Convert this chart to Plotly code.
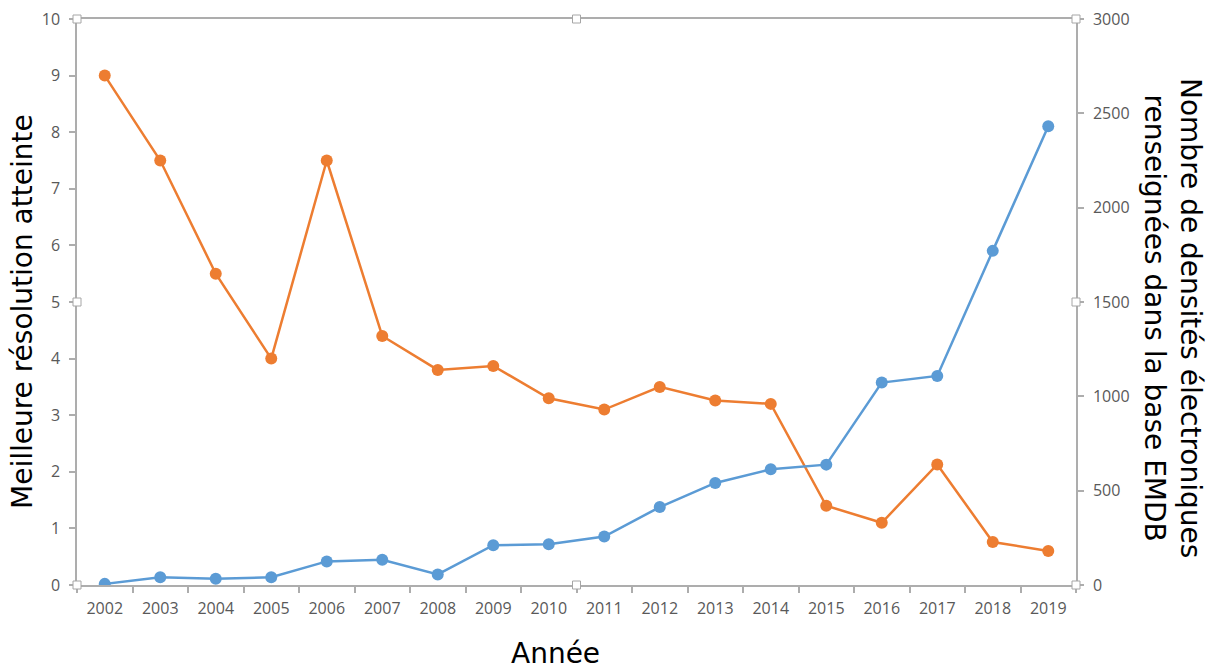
import plotly.graph_objects as go

# Years on the category axis
annees = ["2002", "2003", "2004", "2005", "2006", "2007", "2008", "2009", "2010",
          "2011", "2012", "2013", "2014", "2015", "2016", "2017", "2018", "2019"]

# Best resolution reached each year (left axis)
meilleure_resolution = [9.0, 7.5, 5.5, 4.0, 7.5, 4.4, 3.8, 3.87, 3.3,
                        3.1, 3.5, 3.26, 3.2, 1.4, 1.1, 2.13, 0.76, 0.6]

# Number of maps deposited in EMDB each year (right axis)
nombre_densites = [6, 41, 33, 41, 125, 134, 56, 211, 216,
                   257, 413, 541, 613, 638, 1073, 1108, 1771, 2432]

# Left/right axis tick values
ticks_gauche = list(range(0, 11))
ticks_droite = [0, 500, 1000, 1500, 2000, 2500, 3000]

ORANGE = "#ED7D31"
BLEU = "#5B9BD5"
GRIS_AXE = "#ADADAD"
GRIS_TEXTE = "#595959"

fig = go.Figure()

fig.add_trace(go.Scatter(
    x=annees, y=meilleure_resolution, mode="lines+markers",
    line=dict(color=ORANGE, width=2.5),
    marker=dict(color=ORANGE, size=12),
    yaxis="y", showlegend=False,
))

fig.add_trace(go.Scatter(
    x=annees, y=nombre_densites, mode="lines+markers",
    line=dict(color=BLEU, width=2.5),
    marker=dict(color=BLEU, size=12),
    yaxis="y2", showlegend=False,
))

tick_font = dict(family="Open Sans", size=16, color=GRIS_TEXTE)

fig.update_layout(
    width=1210, height=671,
    margin=dict(l=77, r=134, t=19, b=86),
    paper_bgcolor="white", plot_bgcolor="white",
    xaxis=dict(
        type="category", range=[-0.5, 17.5], automargin=False,
        showgrid=False, zeroline=False,
        showline=True, linecolor=GRIS_AXE, linewidth=1.5, mirror=True,
        ticks="outside", ticklen=6, tickcolor=GRIS_AXE, tickwidth=1.5,
        tickson="boundaries", tickfont=tick_font, ticklabelstandoff=8,
    ),
    yaxis=dict(
        range=[0, 10], tickvals=ticks_gauche, automargin=False,
        showgrid=False, zeroline=False,
        showline=True, linecolor=GRIS_AXE, linewidth=1.5,
        ticks="outside", ticklen=6, tickcolor=GRIS_AXE, tickwidth=1.5,
        tickfont=tick_font, ticklabelstandoff=6,
    ),
    yaxis2=dict(
        range=[0, 3000], tickvals=ticks_droite, automargin=False,
        overlaying="y", side="right",
        showgrid=False, zeroline=False,
        showline=True, linecolor=GRIS_AXE, linewidth=1.5,
        ticks="outside", ticklen=6, tickcolor=GRIS_AXE, tickwidth=1.5,
        tickfont=tick_font, ticklabelstandoff=6,
    ),
)

title_font = dict(family="DejaVu Sans", size=28, color="black")

fig.add_annotation(
    text="Meilleure résolution atteinte", textangle=-90,
    xref="paper", yref="paper", x=0, y=0.5, xshift=-55, yshift=-10,
    xanchor="center", yanchor="middle", showarrow=False, font=title_font,
)
fig.add_annotation(
    text="Nombre de densités électroniques<br>renseignées dans la base EMDB",
    textangle=90,
    xref="paper", yref="paper", x=1, y=0.5, xshift=97, yshift=-16,
    xanchor="center", yanchor="middle", showarrow=False, font=title_font,
)
fig.add_annotation(
    text="Année",
    xref="paper", yref="paper", x=0.5, y=0, xshift=-21, yshift=-68,
    xanchor="center", yanchor="middle", showarrow=False, font=title_font,
)

# Small square handles on the plot-area frame
for hx in (0, 0.5, 1):
    for hy in (0, 0.5, 1):
        if hx == 0.5 and hy == 0.5:
            continue
        fig.add_shape(
            type="rect", xref="paper", yref="paper",
            xsizemode="pixel", ysizemode="pixel",
            xanchor=hx, yanchor=hy, x0=-4, x1=4, y0=-4, y1=4,
            line=dict(color="#A6A6A6", width=1), fillcolor="white",
            layer="above",
        )

fig.write_html("out.html")
